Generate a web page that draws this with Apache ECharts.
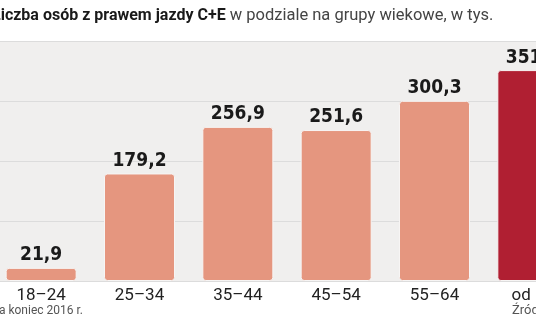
<!DOCTYPE html>
<html><head><meta charset="utf-8">
<script src="https://cdn.jsdelivr.net/npm/echarts@6/dist/echarts.min.js"></script>
<style>html,body{margin:0;padding:0;background:#fff}#c{width:536px;height:332px}</style>
</head><body><div id="c"></div>
<script>
const categories = ['18–24','25–34','35–44','45–54','55–64','od 65'];
const values = [21.9, 179.2, 256.9, 251.6, 300.3, 351.5];
const valueLabels = ['21,9','179,2','256,9','251,6','300,3','351,5'];
const highlight = [false,false,false,false,false,true];
const titleBold = 'Liczba osób z prawem jazdy C+E';
const titleRest = ' w podziale na grupy wiekowe, w tys.';
const footLeft = 'Stan na koniec 2016 r.';
const footRight = 'Źródło: CEPiK';

const chart = echarts.init(document.getElementById('c'), null, {renderer:'canvas'});
const condensed = '"DejaVu Sans Condensed","Liberation Sans Narrow",Roboto,sans-serif';
chart.setOption({
  animation:false,
  backgroundColor:'#ffffff',
  grid:{left:-8,right:-46,top:41,bottom:51,show:true,backgroundColor:'#f0efee',borderWidth:0,containLabel:false,outerBoundsMode:'none'},
  xAxis:{type:'category',data:categories,axisLine:{show:false},axisTick:{show:false},
    axisLabel:{color:'#222',fontSize:17,fontFamily:'Roboto,sans-serif',margin:6}},
  yAxis:{type:'value',min:0,max:400,interval:100,axisLabel:{show:false},axisLine:{show:false},axisTick:{show:false},
    splitLine:{lineStyle:{color:'#dcdcdc',width:1}}},
  series:[{type:'bar',barWidth:71,
    data:values.map((v,i)=>({value:v,itemStyle:{color:highlight[i]?'#b01f32':'#e5967f'}})),
    itemStyle:{borderColor:'#f7f5f4',borderWidth:1,borderRadius:3},
    label:{show:true,position:'top',distance:3,color:'#1a1a1a',fontWeight:'bold',fontSize:19,fontFamily:condensed,
      formatter:p=>valueLabels[p.dataIndex]}
  }],
  graphic:[
    {type:'text',x:-8,y:7,style:{rich:{b:{fontWeight:'bold',fontSize:16,fill:'#1a1a1a',fontFamily:'Roboto,sans-serif'},r:{fontSize:16.5,fill:'#444',fontFamily:'Roboto,sans-serif'}},
      text:'{b|'+titleBold+'}{r|'+titleRest+'}'}},
    {type:'text',x:83,y:305,style:{text:footLeft,textAlign:'right',fontSize:12,fill:'#555',fontFamily:'Roboto,sans-serif'}},
    {type:'text',x:512,y:304,style:{text:footRight,fontSize:13,fill:'#555',fontFamily:'Roboto,sans-serif'}}
  ]
});
</script></body></html>
